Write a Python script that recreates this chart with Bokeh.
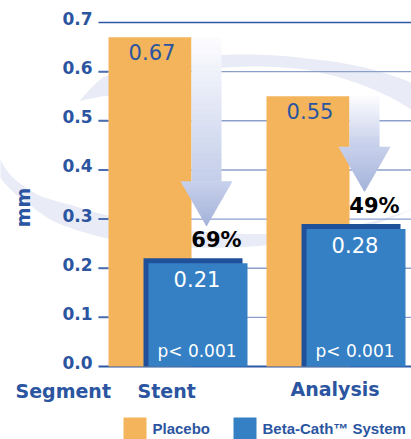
import numpy as np
from bokeh.plotting import figure
from bokeh.models import Range1d
from bokeh.embed import file_html
from bokeh.resources import INLINE
from bokeh.core.properties import value

# ---------------- data ----------------
groups = ["Stent", "Analysis"]
row_label = "Segment"
placebo = [0.67, 0.55]
betacath = [0.21, 0.28]
reduction = ["69%", "49%"]
p_values = ["p< 0.001", "p< 0.001"]
y_ticks = [0.0, 0.1, 0.2, 0.3, 0.4, 0.5, 0.6, 0.7]
tick_labels = ["0.0", "0.1", "0.2", "0.3", "0.4", "0.5", "0.6", "0.7"]
series_names = ["Placebo", "Beta-Cath\u2122 System"]
y_title = "mm"

# ---------------- layout / style ----------------
W, H = 411, 439
PX = 491.4          # pixels per data unit (y)
BASE = 366          # pixel row of y = 0
ORANGE = "#f4b45c"
BLUE = "#3580c4"
SHADOW = "#21509b"
TXT = "#2b55a0"
SWOOSH = "#e9ecf6"


def dy(pix):
    return pix / PX


def yp(pix_row):
    return (BASE - pix_row) / PX


p = figure(width=W, height=H, x_range=Range1d(0, W),
           y_range=Range1d(yp(H), yp(0)),
           output_backend="svg", toolbar_location=None,
           x_axis_location=None, y_axis_location=None,
           min_border=0, min_border_left=0, min_border_right=0,
           min_border_top=0, min_border_bottom=0)
p.grid.visible = False
p.outline_line_color = None
p.background_fill_color = "white"
p.border_fill_color = "white"

TXTKW = dict(text_baseline="middle", text_line_height=1.0)

# ---------------- background swoosh ----------------
def band(cx, cy, rx, ry, phis, ts):
    ph = np.radians(phis)
    xo = cx + (rx + ts / 2) * np.cos(ph)
    yo = cy - (ry + ts / 2) * np.sin(ph)
    xi = cx + (rx - ts / 2) * np.cos(ph)
    yi = cy - (ry - ts / 2) * np.sin(ph)
    xs = np.concatenate([xo, xi[::-1]])
    ys = np.concatenate([yo, yi[::-1]])
    return list(xs), [yp(v) for v in ys]


ph1 = np.linspace(141, 15, 90)
t1 = np.interp(ph1, [15, 35, 50, 75, 100, 130, 141], [32, 28, 22, 11, 13, 22, 0])
ph2 = np.linspace(178, 320, 90)
t2 = np.interp(ph2, [178, 195, 213, 224, 238, 276, 300, 320], [6, 10, 14, 24, 24, 12, 5, 0])
sx1, sy1 = band(250, 170, 220, 110, ph1, t1)
sx2, sy2 = band(232, 150, 237, 90, ph2, t2)
p.patches([sx1, sx2], [sy1, sy2], fill_color=SWOOSH, line_color=None)

# ---------------- bar positions ----------------
G0, STEP = 108, 158
PW, BW = 83, 99
idx = np.arange(len(groups))
pl_left = G0 + STEP * idx
pl_right = pl_left + PW
bl_left = pl_left + 40
bl_right = bl_left + BW

# ---------------- gridlines ----------------
GX0, STUB = 98, 108
for t in y_ticks:
    if t in (0.0, 0.7):
        p.segment(GX0, t, W, t, line_color="#2c58a6", line_width=2 if t == 0 else 1.4)
    else:
        p.segment(GX0, t, W, t, line_color="#8c9fcb", line_width=1.4)
        p.segment(GX0, t, STUB, t, line_color="#4c6db0", line_width=2)

# ---------------- placebo bars ----------------
p.quad(left=pl_left, right=pl_right, bottom=0, top=placebo,
       fill_color=ORANGE, line_color=None)

# ---------------- gradient arrows ----------------
def mix(c0, c1, f):
    return "#%02x%02x%02x" % tuple(int(round(a + (b - a) * f)) for a, b in zip(c0, c1))


for i in idx:
    sl = pl_right[i]
    sr = sl + 30
    cx = (sl + sr) / 2
    hw = 26
    tip = betacath[i] + 0.075
    htop = tip + 0.092
    top = placebo[i]
    n = 26
    edges = np.linspace(top, htop, n + 1)
    qs, qb, cols = [], [], []
    for k in range(n):
        qs.append(edges[k])
        qb.append(edges[k + 1] - dy(0.6))
        cols.append(mix((253, 253, 255), (196, 206, 234), (k + 0.5) / n))
    p.quad(left=sl, right=sr, top=qs, bottom=qb, fill_color=cols, line_color=None)
    m = 18
    fr = np.linspace(0, 1, m + 1)
    xs, ys, hc = [], [], []
    for k in range(m):
        f0, f1 = fr[k], min(fr[k + 1] + 0.02, 1)
        ya = htop - (htop - tip) * f0
        yb = htop - (htop - tip) * f1
        wa = hw * (1 - f0)
        wb = hw * (1 - f1)
        xs.append([cx - wa, cx + wa, cx + wb, cx - wb])
        ys.append([ya, ya, yb, yb])
        hc.append(mix((200, 209, 236), (164, 178, 217), (k + 0.5) / m))
    p.patches(xs, ys, fill_color=hc, line_color=None)
    p.text(x=[cx + 10], y=[tip - dy(13.5)], text=[reduction[i]],
           text_font=value("DejaVu Sans"), text_font_style="bold",
           text_font_size="21px", text_color="black",
           text_align="center", **TXTKW)

# ---------------- Beta-Cath bars (with shadow) ----------------
p.quad(left=bl_left - 5, right=bl_right - 5, bottom=0,
       top=[v + dy(5) for v in betacath], fill_color=SHADOW, line_color=None)
p.quad(left=bl_left, right=bl_right, bottom=0, top=betacath,
       fill_color=BLUE, line_color=None)

# ---------------- value labels ----------------
p.text(x=list((pl_left + pl_right) / 2 + 2), y=[v - dy(15) for v in placebo],
       text=["%.2f" % v for v in placebo], text_font=value("DejaVu Sans"),
       text_font_size="21px", text_color=TXT,
       text_align="center", **TXTKW)
p.text(x=list((bl_left + bl_right) / 2 - 1), y=[v - dy(16) for v in betacath],
       text=["%.2f" % v for v in betacath], text_font=value("DejaVu Sans"),
       text_font_size="21px", text_color="white",
       text_align="center", **TXTKW)
p.text(x=list((bl_left + bl_right) / 2 - 1), y=[dy(15.5)] * len(groups),
       text=p_values, text_font=value("DejaVu Sans"),
       text_font_size="17px", text_color="white",
       text_align="center", **TXTKW)

# ---------------- y tick labels & title ----------------
p.text(x=[92] * len(y_ticks), y=[t + dy(4) for t in y_ticks], text=tick_labels,
       text_font=value("DejaVu Sans"), text_font_style="bold",
       text_font_size="17px", text_color=TXT,
       text_align="right", **TXTKW)
p.text(x=[22], y=[yp(207)], text=[y_title], angle=np.pi / 2,
       text_font=value("DejaVu Sans"), text_font_style="bold",
       text_font_size="19px", text_color=TXT,
       text_align="center", **TXTKW)

# ---------------- category labels ----------------
p.text(x=[15, 137, 290], y=[yp(390.5), yp(390.5), yp(388)],
       text=[row_label] + groups, text_font=value("DejaVu Sans"),
       text_font_style="bold", text_font_size="19px", text_color=TXT,
       text_align="left", **TXTKW)

# ---------------- legend ----------------
leg_x = [123, 233]
leg_cols = [ORANGE, BLUE]
p.quad(left=leg_x, right=[x + 23 for x in leg_x], top=yp(417), bottom=yp(441),
       fill_color=leg_cols, line_color=None)
p.text(x=[x + 29 for x in leg_x], y=[yp(427.5)] * 2, text=series_names,
       text_font=value("Liberation Sans"), text_font_style="bold",
       text_font_size="15px", text_color=TXT,
       text_align="left", **TXTKW)

open("out.html", "w").write(file_html(p, INLINE))
